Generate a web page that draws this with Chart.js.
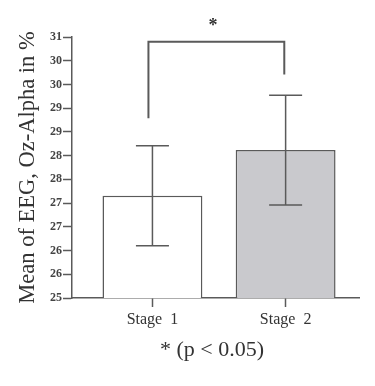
<!DOCTYPE html>
<html>
<head>
<meta charset="utf-8">
<script src="https://cdn.jsdelivr.net/npm/chart.js@4"></script>
<style>
html, body { margin: 0; padding: 0; background: #fff; }
#wrap { width: 375px; height: 386px; }
</style>
</head>
<body>
<div id="wrap"><canvas id="myChart"></canvas></div>
<script>
var stages = ['Stage  1', 'Stage  2'];
var means = [27.35, 28.4];
var errors = [1.15, 1.26];
var yTickLabels = ['25', '26', '26', '27', '27', '28', '28', '29', '29', '30', '30', '31'];
var yMin = 25, yMax = 31;
// significance bracket: left end, top, right end (in %)
var bracketY = [29.13, 30.89, 30.14];
var bracketX = [0.97, 1.99];
var sigLabel = '*';
var footNote = '* (p < 0.05)';

var axisColor = '#5a5a5a';
var serif = '"Liberation Serif", "Times New Roman", serif';

var extras = {
    id: 'extras',
    afterDatasetsDraw: function(chart) {
        var ctx = chart.ctx;
        var x = chart.scales.x, y = chart.scales.y;
        ctx.save();
        ctx.strokeStyle = axisColor;
        ctx.lineWidth = 1.5;
        // error bars
        means.forEach(function(m, i) {
            var cx = x.getPixelForValue(i + 1);
            var top = y.getPixelForValue(m + errors[i]);
            var bot = y.getPixelForValue(m - errors[i]);
            ctx.beginPath();
            ctx.moveTo(cx, top); ctx.lineTo(cx, bot);
            ctx.moveTo(cx - 16.5, top); ctx.lineTo(cx + 16.5, top);
            ctx.moveTo(cx - 16.5, bot); ctx.lineTo(cx + 16.5, bot);
            ctx.stroke();
        });
        // bracket
        ctx.lineWidth = 2;
        ctx.beginPath();
        ctx.moveTo(x.getPixelForValue(bracketX[0]), y.getPixelForValue(bracketY[0]));
        ctx.lineTo(x.getPixelForValue(bracketX[0]), y.getPixelForValue(bracketY[1]));
        ctx.lineTo(x.getPixelForValue(bracketX[1]), y.getPixelForValue(bracketY[1]));
        ctx.lineTo(x.getPixelForValue(bracketX[1]), y.getPixelForValue(bracketY[2]));
        ctx.stroke();
        ctx.fillStyle = '#333';
        ctx.textAlign = 'center';
        ctx.textBaseline = 'middle';
        ctx.font = 'bold 18px ' + serif;
        ctx.fillText(sigLabel, x.getPixelForValue(1.454), y.getPixelForValue(31.25));
        ctx.font = '22px ' + serif;
        ctx.fillText(footNote, x.getPixelForValue(1.447), chart.chartArea.bottom + 52);
        ctx.restore();
    }
};

var ctx = document.getElementById('myChart').getContext('2d');
var chart = new Chart(ctx, {
    type: 'bar',
    data: {
        datasets: [{
            data: means.map(function(m, i) { return {x: i + 1, y: m}; }),
            backgroundColor: ['#ffffff', '#c9c9cd'],
            borderColor: axisColor,
            borderWidth: 1.5,
            borderSkipped: false,
            barPercentage: 0.75,
            categoryPercentage: 1
        }]
    },
    options: {
        responsive: true,
        maintainAspectRatio: false,
        animation: false,
        layout: { padding: { left: 0, top: 37, right: 16, bottom: 0 } },
        plugins: {
            legend: { display: false },
            tooltip: { enabled: false }
        },
        scales: {
            x: {
                type: 'linear',
                offset: false,
                min: 0.396,
                max: 2.551,
                afterBuildTicks: function(scale) {
                    scale.ticks = stages.map(function(s, i) { return {value: i + 1}; });
                },
                afterFit: function(scale) { scale.height = 88; },
                ticks: {
                    callback: function(v) { return stages[v - 1]; },
                    color: '#333',
                    padding: 3,
                    maxRotation: 0,
                    font: { family: serif, size: 16 }
                },
                grid: { offset: false, drawOnChartArea: false, drawTicks: true, tickLength: 9, color: axisColor, tickWidth: 1.5 },
                border: { color: axisColor, width: 1.5 }
            },
            y: {
                min: yMin,
                max: yMax,
                afterBuildTicks: function(scale) {
                    var n = yTickLabels.length - 1;
                    scale.ticks = yTickLabels.map(function(l, i) { return {value: yMin + i * (yMax - yMin) / n}; });
                },
                afterFit: function(scale) { scale.width = 72; },
                ticks: {
                    callback: function(v, i) { return yTickLabels[i]; },
                    color: '#444',
                    padding: 1,
                    font: { family: serif, size: 12, weight: 'bold' }
                },
                grid: { drawOnChartArea: false, drawTicks: true, tickLength: 9, color: axisColor, tickWidth: 1.5 },
                border: { color: axisColor, width: 1.5 },
                title: {
                    display: true,
                    text: 'Mean of EEG, Oz-Alpha in %',
                    color: '#333',
                    padding: { top: 15, bottom: 4 },
                    font: { family: serif, size: 22.5 }
                }
            }
        }
    },
    plugins: [extras]
});
</script>
</body>
</html>
